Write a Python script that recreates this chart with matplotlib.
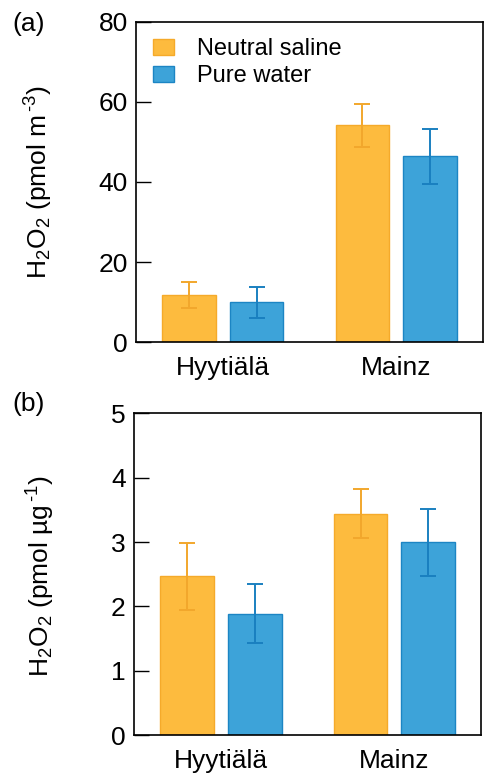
import numpy as np
import matplotlib
matplotlib.use("Agg")
import matplotlib.pyplot as plt

plt.rcParams['font.family'] = ['Liberation Sans', 'DejaVu Sans']
plt.rcParams['mathtext.fontset'] = 'custom'
plt.rcParams['mathtext.rm'] = 'Liberation Sans'
plt.rcParams['mathtext.it'] = 'Liberation Sans:italic'

sites = ["Hyytiälä", "Mainz"]
series = ["Neutral saline", "Pure water"]

# H2O2 per volume of air (pmol m-3)
vol_saline = [11.8, 54.2]
vol_saline_err = [3.3, 5.4]
vol_water = [9.9, 46.4]
vol_water_err = [3.9, 6.8]

# H2O2 per mass of particles (pmol ug-1)
mass_saline = [2.47, 3.44]
mass_saline_err = [0.52, 0.38]
mass_water = [1.89, 3.00]
mass_water_err = [0.46, 0.52]

fills = ["#FDBB3E", "#3DA3D9"]
edges = ["#F5AA2A", "#1C85C4"]
errc = ["#F2A72C", "#1A80C0"]

FS = 19

fig = plt.figure(figsize=(4.84, 7.77), dpi=100)
ax1 = fig.add_axes([0.281, 0.5598, 0.717, 0.412])
ax2 = fig.add_axes([0.277, 0.0537, 0.717, 0.4144])

x = np.arange(len(sites))
width = 0.31
offset = 0.195


def draw(ax, vals, errs, ymax, ylabel, lab_x, lab_y):
    for i, (v, e) in enumerate(zip(vals, errs)):
        pos = x + (-offset if i == 0 else offset)
        ax.bar(pos, v, width, color=fills[i], edgecolor=edges[i],
               linewidth=1.0, label=series[i], zorder=2)
        ax.errorbar(pos, v, yerr=e, fmt='none', ecolor=errc[i],
                    elinewidth=1.4, capsize=5.5, capthick=1.4, zorder=3)
    ax.set_xlim(-0.5, 1.5)
    ax.set_ylim(0, ymax)
    ax.set_xticks(x)
    ax.set_xticklabels(sites)
    ax.tick_params(axis='x', length=0, labelsize=FS, pad=10)
    ax.tick_params(axis='y', direction='in', length=11, width=1.0,
                   labelsize=FS, pad=6)
    for s in ax.spines.values():
        s.set_linewidth(1.2)
    ax.set_ylabel(ylabel, fontsize=FS)
    ax.yaxis.set_label_coords(lab_x, lab_y)


draw(ax1, [vol_saline, vol_water], [vol_saline_err, vol_water_err], 80,
     r"H$_2$O$_2$ (pmol m$^{\,\text{-3}}$)", -0.232, 0.50)
ax1.set_yticks([0, 20, 40, 60, 80])
ax1.legend(loc='upper left', fontsize=17, frameon=False, handlelength=0.92,
           handleheight=0.63, handletextpad=0.95, labelspacing=0.2,
           borderaxespad=0.3, borderpad=0.4, bbox_to_anchor=(0.0, 1.0))

draw(ax2, [mass_saline, mass_water], [mass_saline_err, mass_water_err], 5,
     r"H$_2$O$_2$ (pmol µg$^{\,\text{-1}}$)", -0.222, 0.495)
ax2.set_yticks([0, 1, 2, 3, 4, 5])

fig.text(0.026, 0.984, "(a)", fontsize=FS, va='top', ha='left')
fig.text(0.026, 0.495, "(b)", fontsize=FS, va='top', ha='left')

fig.savefig("out.png", dpi=100)
